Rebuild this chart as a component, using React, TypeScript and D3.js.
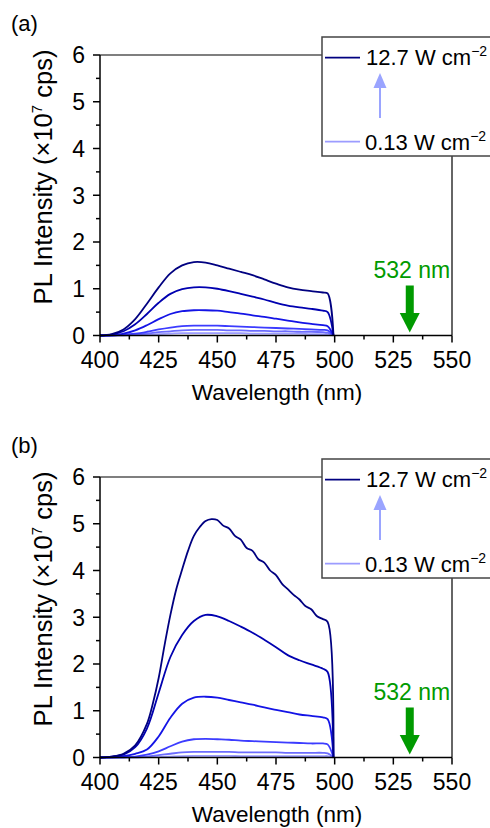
import React from "react";
import * as d3 from "d3";

// wavelength grid (nm) shared by most spectra
const wavelengths = [
  400, 405, 410, 415, 420, 425, 430, 435, 440, 445, 450, 455, 460, 465, 470,
  475, 480, 485, 490, 495, 497, 499.5,
];
// finer grid for the noisy top spectrum of panel (b)
const wavelengthsFine = [
  400, 405, 410, 415, 420, 422.5, 425, 427.5, 430, 432.5, 435, 437.5, 440,
  442.5, 445, 447.5, 450, 452.5, 455, 457.5, 460, 462.5, 465, 467.5, 470,
  472.5, 475, 477.5, 480, 482.5, 485, 487.5, 490, 492.5, 495, 497, 499.5,
];

// panel (a) spectra, x10^7 cps, highest power first
const a1 = [0, 0.03, 0.13, 0.35, 0.68, 1.03, 1.33, 1.5, 1.57, 1.56, 1.5, 1.43, 1.36, 1.29, 1.2, 1.11, 1.03, 0.98, 0.95, 0.92, 0.9, 0];
const a2 = [0, 0.02, 0.09, 0.24, 0.46, 0.7, 0.89, 0.99, 1.03, 1.03, 1.0, 0.95, 0.89, 0.83, 0.77, 0.7, 0.64, 0.6, 0.57, 0.53, 0.5, 0];
const a3 = [0, 0.01, 0.04, 0.11, 0.22, 0.35, 0.46, 0.52, 0.54, 0.54, 0.53, 0.5, 0.47, 0.43, 0.4, 0.36, 0.32, 0.28, 0.25, 0.22, 0.2, 0];
const a4 = [0, 0, 0.02, 0.04, 0.08, 0.13, 0.17, 0.2, 0.21, 0.21, 0.21, 0.2, 0.19, 0.18, 0.17, 0.16, 0.15, 0.14, 0.13, 0.12, 0.11, 0];
const a5 = [0, 0, 0.01, 0.02, 0.04, 0.07, 0.09, 0.11, 0.12, 0.12, 0.12, 0.11, 0.11, 0.1, 0.1, 0.09, 0.09, 0.08, 0.08, 0.07, 0.06, 0];
const a6 = [0, 0, 0, 0.01, 0.02, 0.03, 0.04, 0.05, 0.05, 0.05, 0.05, 0.05, 0.05, 0.04, 0.04, 0.04, 0.04, 0.04, 0.03, 0.03, 0.03, 0];

// panel (b) spectra
const b1 = [
  0, 0.02, 0.08, 0.26, 0.72, 1.15, 1.7, 2.4, 3.05, 3.6, 4.02, 4.42, 4.74, 4.93,
  5.06, 5.1, 5.08, 4.96, 4.9, 4.74, 4.66, 4.48, 4.42, 4.24, 4.17, 4.0, 3.9,
  3.72, 3.6, 3.48, 3.38, 3.24, 3.17, 3.02, 2.96, 2.9, 0,
];
const b2 = [0, 0.02, 0.06, 0.22, 0.62, 1.38, 2.15, 2.62, 2.92, 3.05, 3.02, 2.92, 2.8, 2.67, 2.52, 2.36, 2.19, 2.08, 1.99, 1.9, 1.83, 0];
const b3 = [0, 0.01, 0.03, 0.08, 0.17, 0.45, 0.85, 1.15, 1.28, 1.3, 1.28, 1.23, 1.18, 1.13, 1.07, 1.02, 0.97, 0.92, 0.89, 0.86, 0.82, 0];
const b4 = [0, 0, 0.01, 0.02, 0.06, 0.13, 0.24, 0.34, 0.39, 0.4, 0.39, 0.38, 0.36, 0.35, 0.34, 0.33, 0.32, 0.31, 0.3, 0.3, 0.28, 0];
const b5 = [0, 0, 0, 0.01, 0.02, 0.05, 0.08, 0.11, 0.12, 0.12, 0.12, 0.12, 0.11, 0.11, 0.11, 0.11, 0.1, 0.1, 0.1, 0.1, 0.09, 0];
const b6 = [0, 0, 0, 0, 0.01, 0.01, 0.02, 0.03, 0.035, 0.035, 0.035, 0.035, 0.03, 0.03, 0.03, 0.03, 0.03, 0.03, 0.03, 0.03, 0.03, 0];

const lineColors = ["#000080", "#0000b0", "#1414e6", "#3c3cff", "#6c6cff", "#9c9cff"];

const xTicks = [400, 425, 450, 475, 500, 525, 550];
const yTicks = [0, 1, 2, 3, 4, 5, 6];
const legendHigh = "12.7";
const legendLow = "0.13";
const laserLine = 532;

const FONT = "'Liberation Sans', Arial, Helvetica, sans-serif";
const W = 490;
const H = 828;

const Panel = ({ label, top, series }) => {
  const left = 100;
  const right = 452;
  const bottom = top + 280.5;

  const x = d3.scaleLinear().domain([400, 550]).range([left, right]);
  const y = d3.scaleLinear().domain([0, 6]).range([bottom, top]);

  const makeLine = (wl) =>
    d3
      .line()
      .x((_, i) => x(wl[i]))
      .y((d) => y(d))
      .curve(d3.curveCatmullRom.alpha(0.5));

  const minorX = xTicks.slice(0, -1).map((t) => t + 12.5);
  const minorY = yTicks.slice(0, -1).map((t) => t + 0.5);

  const ax = x(laserLine);

  return (
    <g>
      <text x={11} y={top - 24} fontSize={22} fontFamily={FONT}>
        ({label})
      </text>

      {/* spectra, lightest drawn first */}
      {series
        .map((s, i) => ({ s, i }))
        .reverse()
        .map(({ s, i }) => (
          <path
            key={i}
            d={makeLine(s.wl)(s.v)}
            fill="none"
            stroke={lineColors[i]}
            strokeWidth={1.8}
            strokeLinejoin="round"
          />
        ))}

      {/* frame */}
      <line x1={left} x2={right} y1={top} y2={top} stroke="#555" strokeWidth={1.5} />
      <line x1={right} x2={right} y1={top} y2={bottom} stroke="#333" strokeWidth={1.5} />
      <line x1={left} x2={right} y1={bottom} y2={bottom} stroke="#000" strokeWidth={1.5} />
      <line x1={left} x2={left} y1={top} y2={bottom} stroke="#000" strokeWidth={1.5} />

      {/* x ticks */}
      {xTicks.map((t) => (
        <g key={"x" + t}>
          <line x1={x(t)} x2={x(t)} y1={bottom} y2={bottom + 7} stroke="#000" strokeWidth={1.5} />
          <text x={x(t)} y={bottom + 32} textAnchor="middle" fontSize={23} fontFamily={FONT}>
            {t}
          </text>
        </g>
      ))}
      {minorX.map((t) => (
        <line key={"mx" + t} x1={x(t)} x2={x(t)} y1={bottom} y2={bottom + 4} stroke="#000" strokeWidth={1.5} />
      ))}

      {/* y ticks */}
      {yTicks.map((t) => (
        <g key={"y" + t}>
          <line x1={left - 7} x2={left} y1={y(t)} y2={y(t)} stroke="#000" strokeWidth={1.5} />
          <text x={left - 15} y={y(t)} dy="0.36em" textAnchor="end" fontSize={23} fontFamily={FONT}>
            {t}
          </text>
        </g>
      ))}
      {minorY.map((t) => (
        <line key={"my" + t} x1={left - 4} x2={left} y1={y(t)} y2={y(t)} stroke="#000" strokeWidth={1.5} />
      ))}

      {/* axis titles */}
      <text x={(left + right) / 2 + 1} y={bottom + 64} textAnchor="middle" fontSize={22.5} fontFamily={FONT}>
        Wavelength (nm)
      </text>
      <text
        transform={`translate(52,${top + 122}) rotate(-90)`}
        textAnchor="middle"
        fontSize={25.5}
        fontFamily={FONT}
      >
        PL Intensity (×10
        <tspan fontSize={15} dy={-10}>7</tspan>
        <tspan dy={10}> cps)</tspan>
      </text>

      {/* laser line marker */}
      <text x={ax + 2} y={bottom - 58} textAnchor="middle" fontSize={23} fontFamily={FONT} fill="#009a00">
        {laserLine} nm
      </text>
      <rect x={ax - 4} y={bottom - 50} width={8} height={28} fill="#009a00" />
      <path d={`M${ax - 10},${bottom - 22.5} L${ax + 10},${bottom - 22.5} L${ax},${bottom - 3} Z`} fill="#009a00" />

      {/* legend */}
      <rect x={322} y={top - 18} width={200} height={119} fill="#fff" stroke="#444" strokeWidth={1.5} />
      <line x1={325} x2={360} y1={top + 2.7} y2={top + 2.7} stroke={lineColors[0]} strokeWidth={1.8} />
      <text x={366} y={top + 10} fontSize={22} fontFamily={FONT}>
        {legendHigh} W cm
        <tspan fontSize={14} dy={-9}>−2</tspan>
      </text>
      <line x1={380} x2={380} y1={top + 63} y2={top + 30} stroke="#9aa4ff" strokeWidth={2} />
      <path d={`M380,${top + 18} L373.5,${top + 33} L386.5,${top + 33} Z`} fill="#9aa4ff" />
      <line x1={325} x2={360} y1={top + 86.7} y2={top + 86.7} stroke={lineColors[5]} strokeWidth={1.8} />
      <text x={365} y={top + 95} fontSize={22} fontFamily={FONT}>
        {legendLow} W cm
        <tspan fontSize={14} dy={-9}>−2</tspan>
      </text>
    </g>
  );
};

const seriesA = [a1, a2, a3, a4, a5, a6].map((v) => ({ wl: wavelengths, v }));
const seriesB = [b1, b2, b3, b4, b5, b6].map((v, i) => ({
  wl: i === 0 ? wavelengthsFine : wavelengths,
  v,
}));

export default function App() {
  return (
    <svg
      width={W}
      height={H}
      style={{ position: "absolute", left: 0, top: 0, background: "#fff" }}
    >
      <rect width={W} height={H} fill="#fff" />
      <Panel label="a" top={55} series={seriesA} />
      <Panel label="b" top={477} series={seriesB} />
    </svg>
  );
}
